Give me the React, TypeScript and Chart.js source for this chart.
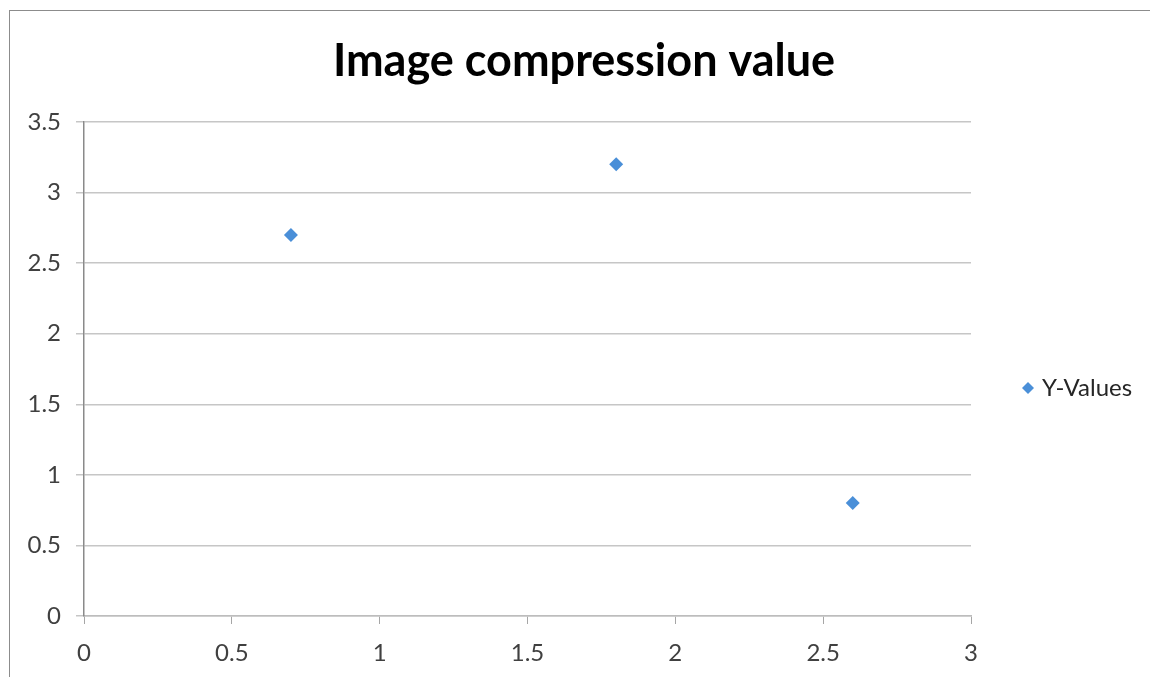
import { useEffect, useRef } from "react";
import { Chart, registerables } from "chart.js";

Chart.register(...registerables);

const TITLE = "Image compression value";
const SERIES_LABEL = "Y-Values";
const xValues = [0.7, 1.8, 2.6];
const yValues = [2.7, 3.2, 0.8];
const X_MIN = 0;
const X_MAX = 3;
const X_STEP = 0.5;
const Y_MIN = 0;
const Y_MAX = 3.5;
const Y_STEP = 0.5;

const FONT = "Lato, 'Open Sans', sans-serif";
const MARKER = "#4A8FD8";
const fmt = (v: any) => String(Number(v));

const decorPlugin = {
  id: "excelDecor",
  afterDraw(chart: any) {
    const ctx = chart.ctx as CanvasRenderingContext2D;
    ctx.save();
    // title
    ctx.fillStyle = "#000000";
    ctx.font = `bold 45px ${FONT}`;
    ctx.textAlign = "center";
    ctx.textBaseline = "middle";
    ctx.fillText(TITLE, 584, 61);
    // legend
    const ds = chart.data.datasets[0];
    const lx = 1028;
    const ly = 388;
    const r = 6;
    ctx.beginPath();
    ctx.moveTo(lx - r, ly);
    ctx.lineTo(lx, ly - r);
    ctx.lineTo(lx + r, ly);
    ctx.lineTo(lx, ly + r);
    ctx.closePath();
    ctx.fillStyle = MARKER;
    ctx.fill();
    ctx.fillStyle = "#262626";
    ctx.font = `24px ${FONT}`;
    ctx.textAlign = "left";
    ctx.textBaseline = "middle";
    ctx.fillText(ds.label, 1042, ly);
    ctx.restore();
  },
};

export default function App() {
  const ref = useRef<HTMLCanvasElement | null>(null);

  useEffect(() => {
    if (!ref.current) return;
    const chart = new Chart(ref.current, {
      type: "scatter",
      data: {
        datasets: [
          {
            label: SERIES_LABEL,
            data: xValues.map((x, i) => ({ x, y: yValues[i] })),
            pointStyle: "rectRot",
            pointRadius: 7,
            pointHoverRadius: 7,
            backgroundColor: MARKER,
            borderColor: MARKER,
            borderWidth: 0,
          },
        ],
      },
      options: {
        animation: false,
        responsive: false,
        layout: { padding: { top: 122, right: 179, bottom: 0, left: 0 } },
        plugins: {
          legend: { display: false },
          title: { display: false },
          tooltip: { enabled: false },
        },
        scales: {
          x: {
            type: "linear",
            min: X_MIN,
            max: X_MAX,
            ticks: {
              stepSize: X_STEP,
              font: { family: FONT, size: 24 },
              color: "#404040",
              padding: 15,
              callback: fmt,
            },
            grid: {
              drawOnChartArea: false,
              drawTicks: true,
              tickLength: 8,
              tickColor: "#a6a6a6",
            },
            border: { color: "#bdbdbd", width: 1.5 },
            afterFit: (s: any) => {
              s.height = 61;
            },
          },
          y: {
            type: "linear",
            min: Y_MIN,
            max: Y_MAX,
            ticks: {
              stepSize: Y_STEP,
              font: { family: FONT, size: 24 },
              color: "#404040",
              padding: 15,
              callback: fmt,
            },
            grid: {
              color: "#c6c6c6",
              lineWidth: 1.5,
              drawTicks: true,
              tickLength: 8,
            },
            border: { color: "#8a8a8a", width: 1.5 },
            afterFit: (s: any) => {
              s.width = 84;
            },
          },
        },
      },
      plugins: [decorPlugin],
    });
    return () => chart.destroy();
  }, []);

  return (
    <div
      style={{
        position: "fixed",
        left: 0,
        top: 0,
        width: 1150,
        height: 677,
        background: "#ffffff",
        overflow: "hidden",
      }}
    >
      <div
        style={{
          position: "absolute",
          left: 9,
          top: 10,
          width: 1200,
          height: 700,
          borderLeft: "1.5px solid #8c8c8c",
          borderTop: "1.5px solid #8c8c8c",
        }}
      />
      <canvas
        ref={ref}
        width={1150}
        height={677}
        style={{ position: "absolute", left: 0, top: 0, width: 1150, height: 677 }}
      />
    </div>
  );
}
